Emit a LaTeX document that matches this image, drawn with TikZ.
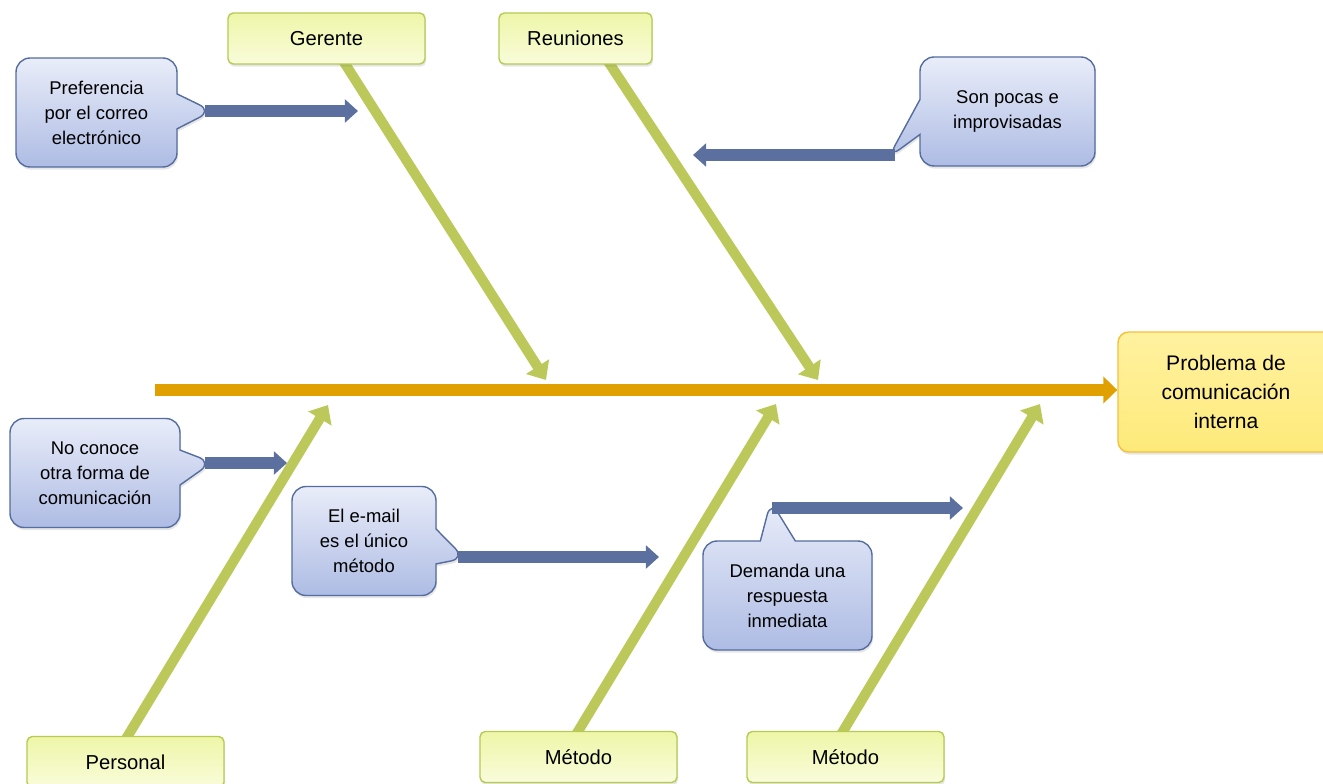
\documentclass[tikz,border=0pt]{standalone}
\usepackage{fontspec}
\setmainfont{Liberation Sans}
\usetikzlibrary{arrows.meta,shapes.callouts,shadows,backgrounds}
\definecolor{spineorange}{RGB}{224,161,0}
\definecolor{bonegreen}{RGB}{188,201,90}
\definecolor{linkblue}{RGB}{91,112,158}
\definecolor{noteedge}{RGB}{84,108,158}
\definecolor{notetop}{RGB}{233,237,249}
\definecolor{notebot}{RGB}{174,188,228}
\definecolor{causeedge}{RGB}{182,202,84}
\definecolor{causetop}{RGB}{238,246,168}
\definecolor{causebot}{RGB}{249,252,218}
\definecolor{effectedge}{RGB}{245,192,60}
\definecolor{effecttop}{RGB}{255,242,160}
\definecolor{effectbot}{RGB}{254,234,122}
\tikzset{
  cause/.style={draw=causeedge,line width=0.8pt,rounded corners=3pt,
    top color=causetop,bottom color=causebot,minimum height=1.02cm,
    font=\fontsize{11.5}{13}\selectfont,
    drop shadow={opacity=0.2,shadow xshift=0.6pt,shadow yshift=-1.5pt}},
  effect/.style={cause,draw=effectedge,top color=effecttop,bottom color=effectbot,
    rounded corners=6pt,align=center,font=\fontsize{12}{16.4}\selectfont},
  note/.style={rectangle callout,draw=noteedge,line width=0.8pt,rounded corners=8pt,
    callout pointer width=0.7cm,callout pointer shorten=-4pt,
    top color=notetop,bottom color=notebot,align=center,minimum height=2.18cm,
    font=\fontsize{10.5}{14.2}\selectfont,
    drop shadow={opacity=0.2,shadow xshift=0.6pt,shadow yshift=-1.5pt}},
  bone/.style={line width=5.7pt,draw=bonegreen,-{Triangle[width=15pt,length=9pt]}},
  link/.style={line width=7pt,draw=linkblue,-{Triangle[width=13pt,length=7.5pt]}},
  spine/.style={line width=6.4pt,draw=spineorange,-{Triangle[width=15pt,length=8pt]}},
}
\begin{document}
\begin{tikzpicture}[x=0.02cm,y=-0.02cm]
  \useasboundingbox (0,0) rectangle (1323,784);
  % causes and effect
  \node[effect,minimum width=4.32cm,minimum height=2.4cm] (problema) at (1226,392)
    {Problema de\\comunicación\\interna};
  \node[cause,minimum width=3.94cm] (gerente) at (326.5,38.5) {Gerente};
  \node[cause,minimum width=3.06cm] (reuniones) at (575.5,38.5) {Reuniones};
  \node[cause,minimum width=3.94cm] (personal) at (125.5,762) {Personal};
  \node[cause,minimum width=3.94cm] (metodoA) at (578.5,757) {Método};
  \node[cause,minimum width=3.94cm] (metodoB) at (845.5,757) {Método};
  \coordinate (tail) at (155,390);
  \coordinate (gTip) at (546,380);
  \coordinate (rTip) at (818,380);
  \coordinate (pTip) at (328,405);
  \coordinate (aTip) at (776,404);
  \coordinate (bTip) at (1040,404);
  \begin{pgfonlayer}{background}
    \draw[spine] (tail) -- (tail -| problema.west);
    \draw[bone] ([xshift=0.05cm]gerente.center) -- (gTip);
    \draw[bone] ([xshift=0.35cm]reuniones.center) -- (rTip);
    \draw[bone] ([xshift=-0.27cm]personal.center) -- (pTip);
    \draw[bone] ([xshift=-0.32cm]metodoA.center) -- (aTip);
    \draw[bone] ([xshift=-0.36cm]metodoB.center) -- (bTip);
  \end{pgfonlayer}
  % notes
  \coordinate (cStart) at (205,111);
  \coordinate (sStart) at (895,155);
  \coordinate (nStart) at (205,463);
  \coordinate (eStart) at (458,557);
  \coordinate (dStart) at (772,508);
  \node[note,minimum width=3.22cm,callout absolute pointer=(cStart)] (correo) at (96.5,112.5)
    {Preferencia\\por el correo\\electrónico};
  \node[note,minimum width=3.5cm,callout absolute pointer=(sStart)] (pocas) at (1007.5,111.5)
    {Son pocas e\\improvisadas};
  \node[note,minimum width=3.4cm,callout absolute pointer=(nStart)] (conoce) at (95,473)
    {No conoce\\otra forma de\\comunicación};
  \node[note,minimum width=2.88cm,callout absolute pointer=(eStart)] (email) at (364,541)
    {El e-mail\\es el único\\método};
  \node[note,minimum width=3.38cm,callout absolute pointer=(dStart)] (demanda) at (787.5,595.5)
    {Demanda una\\respuesta\\inmediata};
  \coordinate (cEnd) at (358,111);
  \coordinate (sEnd) at (693,155);
  \coordinate (nEnd) at (287,463);
  \coordinate (eEnd) at (659,557);
  \coordinate (dEnd) at (963,508);
  \draw[link] (cStart) -- (cEnd);
  \draw[link] (sStart) -- (sEnd);
  \draw[link] (nStart) -- (nEnd);
  \draw[link] (eStart) -- (eEnd);
  \draw[link] (dStart) -- (dEnd);
\end{tikzpicture}
\end{document}
